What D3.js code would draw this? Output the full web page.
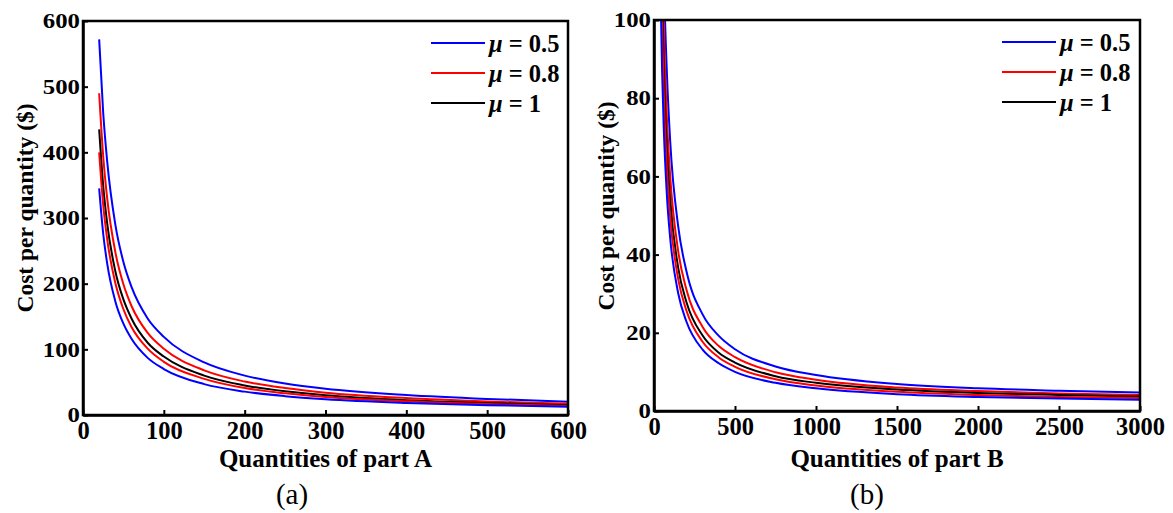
<!DOCTYPE html>
<html><head><meta charset="utf-8">
<script src="https://cdn.jsdelivr.net/npm/d3@7"></script>
<style>
body{margin:0;background:#fff;}
svg{display:block;}
svg text{font-family:'Liberation Serif','Times New Roman',Tinos,'DejaVu Serif',serif !important;}
</style></head>
<body><svg id="c" width="1173" height="513"></svg>
<script>
// ---------- data ----------
const muLabels = ["0.5", "0.8", "1"];
const seriesColors = ["#0000ff", "#ff0000", "#000000", "#ff0000", "#0000ff"];
// Panel (a): quantities of part A
const qtyA = [20, 25, 30, 40, 50, 60, 80, 100, 150, 200, 250, 300, 400, 500, 600];
const costA_blueUpper = [572, 460, 385, 290, 233, 195, 147, 119, 80, 60, 48, 40, 30.5, 24.5, 20.3];
const costA_redUpper  = [490, 394, 329, 248, 199, 166, 125, 101, 68, 51, 41, 34, 25.8, 20.6, 17];
const costA_black     = [435, 349, 291, 219, 176, 147, 110, 89, 60, 45, 36, 30, 22.5, 18.2, 15];
const costA_redLower  = [400, 320, 267, 201, 161, 134, 101, 81, 55, 41, 33, 27.5, 20.8, 16.6, 13.7];
const costA_blueLower = [345, 276, 230, 173, 139, 116, 87, 70, 47, 35.6, 28.7, 24, 18.4, 15, 12.7];
// Panel (b): quantities of part B
const qtyB = [40, 50, 60, 80, 100, 150, 200, 300, 400, 500, 750, 1000, 1500, 2000, 2500, 3000];
const costB_blueUpper = [169, 136, 113, 86, 69, 47, 35.8, 24.7, 19.2, 15.8, 11.4, 9.2, 6.9, 5.8, 5.2, 4.7];
const costB_redUpper  = [147, 118, 98.5, 74.5, 60, 40.7, 31.1, 21.5, 16.6, 13.8, 9.9, 8, 6, 5.1, 4.5, 4.1];
const costB_black     = [131, 105.5, 88.3, 66.7, 53.8, 36.5, 27.9, 19.3, 14.9, 12.4, 8.9, 7.2, 5.5, 4.6, 4.1, 3.7];
const costB_redLower  = [121.5, 97.5, 81.5, 61.6, 49.6, 33.6, 25.7, 17.7, 13.7, 11.3, 8.1, 6.5, 4.9, 4.1, 3.6, 3.3];
const costB_blueLower = [108, 86.9, 72.7, 54.9, 44.2, 30, 22.9, 15.7, 12.2, 10, 7.2, 5.8, 4.3, 3.6, 3.2, 2.9];
const ticksA_x = [0, 100, 200, 300, 400, 500, 600];
const ticksA_y = [0, 100, 200, 300, 400, 500, 600];
const ticksB_x = [0, 500, 1000, 1500, 2000, 2500, 3000];
const ticksB_y = [0, 20, 40, 60, 80, 100];

const svg = d3.select("#c");
const defs = svg.append("defs");

// ---------- panels ----------
function panel(cfg) {
  const x = d3.scaleLinear().domain(cfg.xDomain).range([cfg.left, cfg.right]);
  const y = d3.scaleLinear().domain(cfg.yDomain).range([cfg.bottom, cfg.top]);
  const g = svg.append("g");
  const clipId = "clip" + cfg.id;
  defs.append("clipPath").attr("id", clipId).append("rect")
    .attr("x", cfg.left).attr("y", cfg.top).attr("width", cfg.right - cfg.left).attr("height", cfg.bottom - cfg.top);
  const line = d3.line().x(d => x(d[0])).y(d => y(d[1])).curve(d3.curveMonotoneX);
  const lg = g.append("g").attr("clip-path", `url(#${clipId})`);
  cfg.series.forEach((s, i) => {
    lg.append("path").datum(cfg.qty.map((q, k) => [q, s[k]]))
      .attr("d", line).attr("fill", "none").attr("stroke", seriesColors[i]).attr("stroke-width", 2);
  });
  // frame
  g.append("rect").attr("x", cfg.left).attr("y", cfg.top).attr("width", cfg.right - cfg.left)
    .attr("height", cfg.bottom - cfg.top).attr("fill", "none").attr("stroke", "#000").attr("stroke-width", 2.5);
  // axes
  const ax = g.append("g").attr("transform", `translate(0,${cfg.bottom})`)
    .call(d3.axisBottom(x).tickValues(cfg.xTicks).tickFormat(d3.format("d")).tickSizeInner(-5).tickSizeOuter(0).tickPadding(7));
  ax.attr("font-family", null);
  ax.select(".domain").attr("stroke-width", 2.5);
  ax.selectAll(".tick line").attr("stroke-width", 2);
  ax.selectAll("text").style("font-size", "24.5px").style("font-weight", "bold").attr("fill", "#000");
  const ay = g.append("g").attr("transform", `translate(${cfg.left},0)`)
    .call(d3.axisLeft(y).tickValues(cfg.yTicks).tickFormat(d3.format("d")).tickSizeInner(-5).tickSizeOuter(0).tickPadding(3));
  ay.attr("font-family", null);
  ay.select(".domain").attr("stroke-width", 2.5);
  ay.selectAll(".tick line").attr("stroke-width", 2);
  ay.selectAll("text").style("font-size", "21px").style("font-weight", "bold").attr("fill", "#000")
    .attr("x", 0).attr("transform", "translate(-3,0) scale(1.18,1)");
  // axis titles
  g.append("text").attr("x", (cfg.left + cfg.right) / 2).attr("y", 467).attr("text-anchor", "middle")
    .style("font-size", "25px").style("font-weight", "bold").text(cfg.xTitle);
  g.append("text").attr("transform", `translate(${cfg.yTitleX},${cfg.yTitleY}) rotate(-90)`)
    .attr("text-anchor", "middle").style("font-size", "23.5px").style("font-weight", "bold").text("Cost per quantity ($)");
  // panel label
  g.append("text").attr("x", cfg.labelX).attr("y", 504).attr("text-anchor", "middle")
    .style("font-size", "29px").text(cfg.label);
  // legend
  const legColors = [seriesColors[0], seriesColors[1], seriesColors[2]];
  muLabels.forEach((m, i) => {
    const yy = cfg.legY + i * 30;
    g.append("line").attr("x1", cfg.legX).attr("x2", cfg.legX + 54).attr("y1", yy).attr("y2", yy)
      .attr("stroke", legColors[i]).attr("stroke-width", 2);
    const t = g.append("text").attr("x", cfg.legX + 58).attr("y", yy + 9).style("font-size", "24.5px").style("font-weight", "bold");
    t.append("tspan").style("font-style", "italic").text("μ");
    t.append("tspan").text(" = " + m);
  });
}

panel({id: "A", xDomain: [0, 600], yDomain: [0, 600], left: 83, right: 568, top: 21, bottom: 415,
  qty: qtyA, series: [costA_blueUpper, costA_redUpper, costA_black, costA_redLower, costA_blueLower],
  xTicks: ticksA_x, yTicks: ticksA_y, xTitle: "Quantities of part A", yTitleX: 33, yTitleY: 208, label: "(a)", labelX: 292,
  legX: 431, legY: 43});
panel({id: "B", xDomain: [0, 3000], yDomain: [0, 100], left: 654, right: 1140, top: 20, bottom: 411,
  qty: qtyB, series: [costB_blueUpper, costB_redUpper, costB_black, costB_redLower, costB_blueLower],
  xTicks: ticksB_x, yTicks: ticksB_y, xTitle: "Quantities of part B", yTitleX: 614, yTitleY: 206, label: "(b)", labelX: 867,
  legX: 1002, legY: 42});
</script></body></html>
